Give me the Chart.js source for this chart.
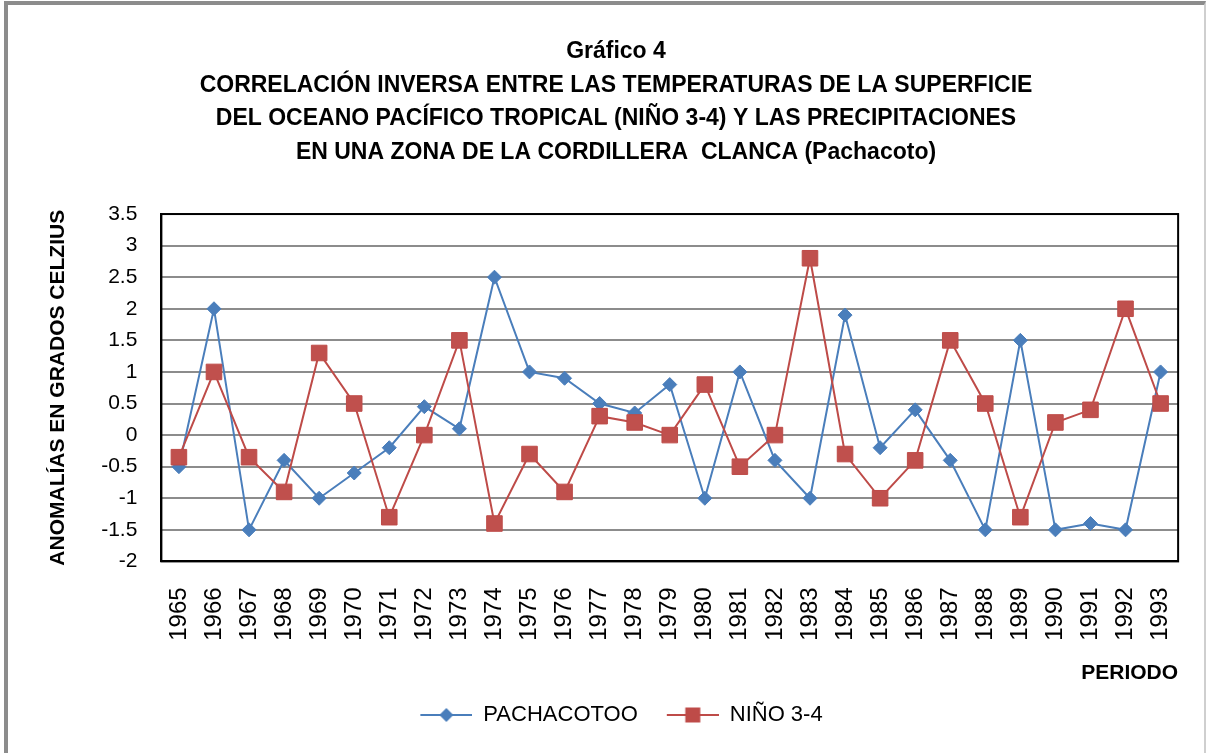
<!DOCTYPE html>
<html>
<head>
<meta charset="utf-8">
<script src="https://cdn.jsdelivr.net/npm/chart.js@4.4.0/dist/chart.umd.min.js"></script>
<style>
  html, body { margin: 0; padding: 0; background: #fff; }
  #wrap { position: relative; width: 1206px; height: 753px; overflow: hidden; }
  #frame {
    position: absolute; left: 4px; top: 1px; width: 1196px; height: 800px;
    border-top: 4px solid #8c8c8c; border-left: 4px solid #8c8c8c; border-right: 2px solid #cfcfcf;
    pointer-events: none;
  }
  canvas { position: absolute; left: 0; top: 0; }
</style>
</head>
<body>
<div id="wrap">
  <canvas id="chart" width="1206" height="753"></canvas>
  <div id="frame"></div>
</div>
<script>
const years = ['1965', '1966', '1967', '1968', '1969', '1970', '1971', '1972', '1973', '1974',
               '1975', '1976', '1977', '1978', '1979', '1980', '1981', '1982', '1983', '1984',
               '1985', '1986', '1987', '1988', '1989', '1990', '1991', '1992', '1993'];

const pachacotoo = [-0.5, 2.0, -1.5, -0.4, -1.0, -0.6, -0.2, 0.45, 0.1, 2.5,
                    1.0, 0.9, 0.5, 0.35, 0.8, -1.0, 1.0, -0.4, -1.0, 1.9,
                    -0.2, 0.4, -0.4, -1.5, 1.5, -1.5, -1.4, -1.5, 1.0];

const nino34 = [-0.35, 1.0, -0.35, -0.9, 1.3, 0.5, -1.3, 0, 1.5, -1.4,
                -0.3, -0.9, 0.3, 0.2, 0, 0.8, -0.5, 0, 2.8, -0.3,
                -1.0, -0.4, 1.5, 0.5, -1.3, 0.2, 0.4, 2.0, 0.5];

const seriesNames = ['PACHACOTOO', 'NIÑO 3-4'];

const titleLines = [
  'Gráfico 4',
  'CORRELACIÓN INVERSA ENTRE LAS TEMPERATURAS DE LA SUPERFICIE',
  'DEL OCEANO PACÍFICO TROPICAL (NIÑO 3-4) Y LAS PRECIPITACIONES',
  'EN UNA ZONA DE LA CORDILLERA  CLANCA (Pachacoto)'
];

const yMin = -2;
const yMax = 3.5;
const yStep = 0.5;

const FONT = '"Liberation Sans", Arial, sans-serif';
const BLUE = '#4A7EBB';
const RED = '#BE4B48';

// legend swatch: line with marker on it, like excel (11px blank on the left for spacing)
function legendIcon(color, shape) {
  const c = document.createElement('canvas');
  c.width = 63;
  c.height = 18;
  const g = c.getContext('2d');
  g.strokeStyle = color;
  g.lineWidth = 2;
  g.beginPath();
  g.moveTo(11, 9);
  g.lineTo(63, 9);
  g.stroke();
  g.fillStyle = color;
  g.beginPath();
  if (shape === 'diamond') {
    g.moveTo(37, 2); g.lineTo(44, 9); g.lineTo(37, 16); g.lineTo(30, 9);
  } else {
    g.rect(29.5, 1.5, 15, 15);
  }
  g.closePath();
  g.fill();
  return c;
}

const plotFrame = {
  id: 'plotFrame',
  beforeDatasetsDraw(chart) {
    const a = chart.chartArea;
    const ctx = chart.ctx;
    ctx.save();
    ctx.strokeStyle = '#000';
    ctx.lineWidth = 2;
    ctx.strokeRect(a.left, a.top, a.right - a.left, a.bottom - a.top);
    ctx.restore();
  }
};

const ctx = document.getElementById('chart').getContext('2d');
new Chart(ctx, {
  type: 'line',
  data: {
    labels: years,
    datasets: [{
      label: seriesNames[0],
      data: pachacotoo,
      borderColor: BLUE,
      backgroundColor: BLUE,
      borderWidth: 2,
      pointStyle: 'rectRot',
      pointRadius: 7,
      pointBorderWidth: 1,
      tension: 0,
      order: 2
    }, {
      label: seriesNames[1],
      data: nino34,
      borderColor: RED,
      backgroundColor: '#C0504D',
      borderWidth: 2,
      pointStyle: 'rect',
      pointRadius: 11,
      pointBorderWidth: 1,
      tension: 0,
      order: 1
    }]
  },
  options: {
    responsive: false,
    animation: false,
    layout: { padding: { top: 12, left: 8, right: -18, bottom: 17 } },
    plugins: {
      title: {
        display: true,
        text: titleLines,
        color: '#000',
        font: { family: FONT, size: 23, weight: 'bold', lineHeight: 1.457 },
        padding: { top: 23, bottom: 45 }
      },
      legend: {
        position: 'bottom',
        labels: {
          usePointStyle: true,
          pointStyleWidth: 63,
          padding: 18,
          color: '#000',
          font: { family: FONT, size: 22 },
          generateLabels: () => [
            { text: seriesNames[0], pointStyle: legendIcon(BLUE, 'diamond'), fillStyle: BLUE, strokeStyle: BLUE, lineWidth: 0, fontColor: '#000', hidden: false, datasetIndex: 0 },
            { text: seriesNames[1], pointStyle: legendIcon(RED, 'square'), fillStyle: RED, strokeStyle: RED, lineWidth: 0, fontColor: '#000', hidden: false, datasetIndex: 1 }
          ]
        }
      },
      tooltip: { enabled: false }
    },
    scales: {
      x: {
        offset: true,
        grid: { display: false, drawTicks: false },
        border: { color: '#000', width: 2 },
        ticks: {
          minRotation: 90,
          maxRotation: 90,
          autoSkip: false,
          padding: 26,
          color: '#000',
          font: { family: FONT, size: 24, lineHeight: 0.8 }
        },
        title: {
          display: true,
          text: 'PERIODO',
          align: 'end',
          color: '#000',
          font: { family: FONT, size: 21, weight: 'bold' },
          padding: { top: -6, bottom: 0 }
        }
      },
      y: {
        min: yMin,
        max: yMax,
        grid: { color: '#8c8c8c', lineWidth: 2, drawTicks: false },
        border: { color: '#000', width: 2 },
        ticks: {
          stepSize: yStep,
          padding: 24,
          color: '#000',
          font: { family: FONT, size: 21 },
          callback: (v) => String(v)
        },
        title: {
          display: true,
          text: 'ANOMALÍAS EN GRADOS CELZIUS',
          color: '#000',
          font: { family: FONT, size: 21, weight: 'bold' },
          padding: { top: 38, bottom: 6 }
        }
      }
    }
  },
  plugins: [plotFrame]
});
</script>
</body>
</html>
